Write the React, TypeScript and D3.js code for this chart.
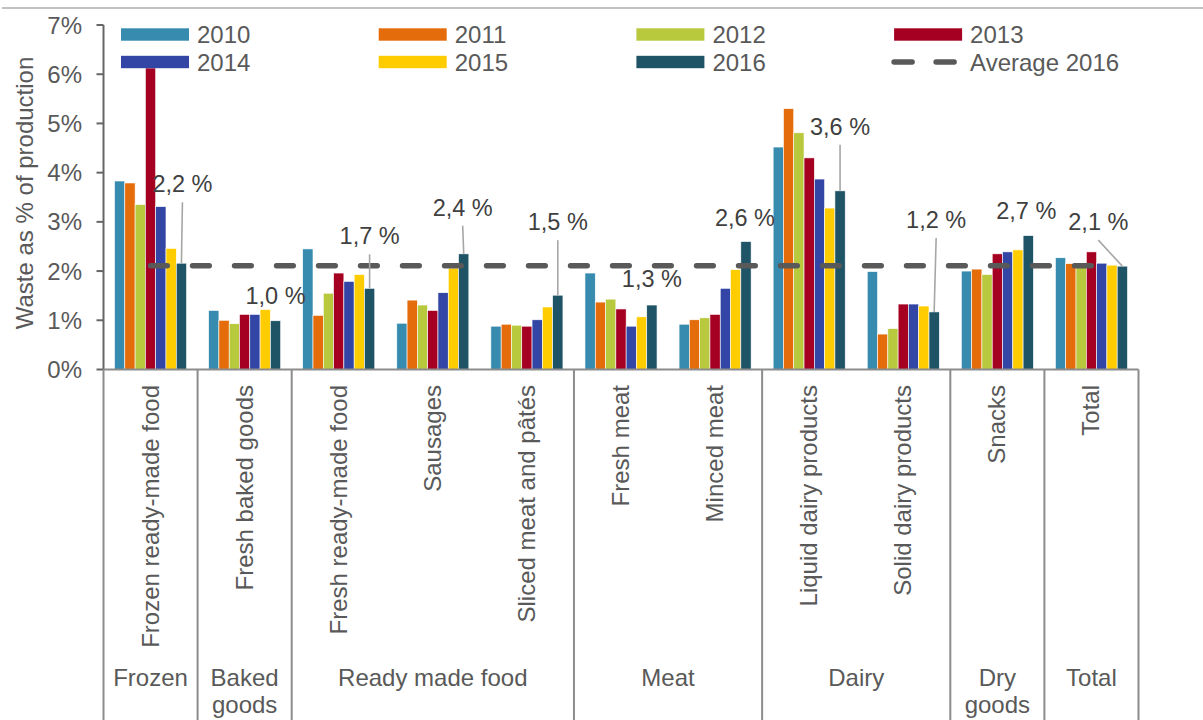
import React from "react";
import * as d3 from "d3";

const years = ["2010", "2011", "2012", "2013", "2014", "2015", "2016"];
const subcategories = [
  "Frozen ready-made food",
  "Fresh baked goods",
  "Fresh ready-made food",
  "Sausages",
  "Sliced meat and pâtés",
  "Fresh meat",
  "Minced meat",
  "Liquid dairy products",
  "Solid dairy products",
  "Snacks",
  "Total",
];
const groupLabels = [["Frozen"], ["Baked", "goods"], ["Ready made food"], ["Meat"], ["Dairy"], ["Dry", "goods"], ["Total"]];
const groupSizes = [1, 1, 3, 2, 2, 1, 1];

const v2010 = [3.83, 1.2, 2.45, 0.94, 0.88, 1.96, 0.92, 4.52, 1.99, 2.0, 2.27];
const v2011 = [3.79, 1.0, 1.1, 1.41, 0.92, 1.37, 1.01, 5.3, 0.72, 2.04, 2.15];
const v2012 = [3.35, 0.93, 1.55, 1.31, 0.9, 1.43, 1.05, 4.81, 0.83, 1.93, 2.12];
const v2013 = [6.4, 1.12, 1.96, 1.2, 0.88, 1.23, 1.12, 4.3, 1.33, 2.35, 2.39];
const v2014 = [3.31, 1.12, 1.79, 1.56, 1.01, 0.88, 1.65, 3.87, 1.33, 2.39, 2.16];
const v2015 = [2.46, 1.22, 1.93, 2.06, 1.27, 1.07, 2.03, 3.28, 1.29, 2.43, 2.12];
const v2016 = [2.16, 0.99, 1.65, 2.35, 1.51, 1.31, 2.6, 3.63, 1.17, 2.72, 2.1];
const average2016 = 2.11;
const labels2016 = ["2,2 %", "1,0 %", "1,7 %", "2,4 %", "1,5 %", "1,3 %", "2,6 %", "3,6 %", "1,2 %", "2,7 %", "2,1 %"];
const yTicks = [0, 1, 2, 3, 4, 5, 6, 7];

const series = [v2010, v2011, v2012, v2013, v2014, v2015, v2016];
const colors = ["#368BAF", "#E46C0A", "#B8C93E", "#A50021", "#3346A5", "#FFCC00", "#1F5467"];

// label placement (layout only): text x offset, baseline offset from bar top, leader line
const labelLayout = [
  { dx: 1, dy: -71, leader: true },
  { dx: 0, dy: -17, leader: false },
  { dx: 0, dy: -44, leader: true },
  { dx: -1, dy: -38, leader: true },
  { dx: 0, dy: -65, leader: true },
  { dx: 0, dy: -18, leader: false },
  { dx: -1, dy: -16, leader: false },
  { dx: 0, dy: -56, leader: true },
  { dx: 2, dy: -84, leader: true },
  { dx: -2, dy: -16.5, leader: false },
  { dx: -24, dy: -36, leader: true },
];

const FONT = "'Liberation Sans', Arial, Helvetica, sans-serif";
const TXT = "#595959";
const FS = 24;

export default function App() {
  const W = 1203;
  const H = 720;
  const left = 103.5;
  const right = 1138.5;
  const y0 = 369.5;

  const x = d3.scaleBand<string>().domain(subcategories).range([left, right]).paddingInner(0).paddingOuter(0);
  const xi = d3.scaleBand<string>().domain(years).range([0, x.bandwidth()]).paddingInner(0).paddingOuter(1.07);
  const y = d3.scaleLinear().domain([0, 7]).range([y0, 25]);

  const boundaries: number[] = [left];
  const groupCenters: number[] = [];
  let idx = 0;
  groupSizes.forEach((n) => {
    const start = x(subcategories[idx])!;
    const end = start + n * x.bandwidth();
    groupCenters.push((start + end) / 2);
    boundaries.push(end);
    idx += n;
  });

  const bw = xi.bandwidth();
  const barCenter = (ci: number, yi: number) => x(subcategories[ci])! + xi(years[yi])! + bw / 2;

  const avgX1 = x(subcategories[0])! + x.bandwidth() / 2;
  const avgX2 = x(subcategories[subcategories.length - 1])! + x.bandwidth() / 2;

  const legendItems = [...years, "Average 2016"];
  const legendOrder = [0, 1, 2, 3, 4, 5, 6, 7];

  return (
    <svg
      width={W}
      height={H}
      style={{ position: "fixed", left: 0, top: 0, background: "#fff" }}
      fontFamily={FONT}
    >
      <rect x={0} y={0} width={W} height={H} fill="#fff" />
      <line x1={2} x2={W} y1={8} y2={8} stroke="#c0c0c0" strokeWidth={2} />

      {subcategories.map((c, ci) => (
        <g key={c}>
          {series.map((s, yi) => (
            <rect
              key={yi}
              x={x(c)! + xi(years[yi])!}
              y={y(s[ci])}
              width={bw}
              height={y0 - y(s[ci])}
              fill={colors[yi]}
              stroke="#fff"
              strokeWidth={0.6}
            />
          ))}
        </g>
      ))}

      <line
        x1={avgX1}
        x2={avgX2}
        y1={y(average2016)}
        y2={y(average2016)}
        stroke="#595959"
        strokeWidth={5.5}
        strokeLinecap="round"
        strokeDasharray="16.7 25.3"
      />

      <rect x={110} y={17} width={1020} height={51.3} fill="#fff" />
      {legendOrder.map((i) => {
        const col = i % 4;
        const row = Math.floor(i / 4);
        const lx = 121 + col * 257.7;
        const ly = 34.5 + row * 27.5;
        return (
          <g key={i}>
            {i < 7 ? (
              <rect x={lx} y={ly - 6.2} width={68} height={12.4} fill={colors[i]} />
            ) : (
              <line
                x1={lx}
                x2={lx + 60}
                y1={ly}
                y2={ly}
                stroke="#595959"
                strokeWidth={5.5}
                strokeLinecap="round"
                strokeDasharray="18 24"
              />
            )}
            <text x={lx + 76} y={ly} dy="0.36em" fontSize={FS} fill={TXT}>
              {legendItems[i]}
            </text>
          </g>
        );
      })}

      <line x1={left} x2={left} y1={y(7)} y2={y0} stroke="#666" strokeWidth={2} />
      {yTicks.map((t) => (
        <g key={t}>
          <line x1={left - 7} x2={left} y1={y(t)} y2={y(t)} stroke="#666" strokeWidth={2} />
          <text x={82} y={y(t)} dy="0.36em" textAnchor="end" fontSize={FS} fill={TXT}>
            {t}%
          </text>
        </g>
      ))}
      <text transform={`translate(33,193) rotate(-90)`} textAnchor="middle" fontSize={FS} fill={TXT}>
        Waste as % of production
      </text>

      <line x1={left} x2={right} y1={y0} y2={y0} stroke="#8c8c8c" strokeWidth={2} />
      {boundaries.map((b, i) => (
        <line key={i} x1={b} x2={b} y1={y0} y2={H} stroke="#8c8c8c" strokeWidth={2} />
      ))}

      {subcategories.map((c) => {
        const cx = x(c)! + x.bandwidth() / 2;
        return (
          <text
            key={c}
            transform={`translate(${cx + 8},385) rotate(-90)`}
            textAnchor="end"
            fontSize={FS}
            fill={TXT}
          >
            {c}
          </text>
        );
      })}

      {groupLabels.map((lines, gi) => (
        <text key={gi} x={groupCenters[gi]} y={686} textAnchor="middle" fontSize={FS} fill={TXT}>
          {lines.map((l, li) => (
            <tspan key={li} x={groupCenters[gi]} dy={li === 0 ? 0 : 27}>
              {l}
            </tspan>
          ))}
        </text>
      ))}

      {labels2016.map((lab, ci) => {
        const bx = barCenter(ci, 6);
        const top = y(v2016[ci]);
        const L = labelLayout[ci];
        const tx = bx + L.dx;
        const base = top + L.dy;
        return (
          <g key={ci}>
            {L.leader && <line x1={tx} y1={base + 10} x2={bx} y2={top} stroke="#a6a6a6" strokeWidth={1.6} />}
            <text x={tx} y={base} textAnchor="middle" fontSize={23.5} fill="#404040">
              {lab}
            </text>
          </g>
        );
      })}
    </svg>
  );
}
